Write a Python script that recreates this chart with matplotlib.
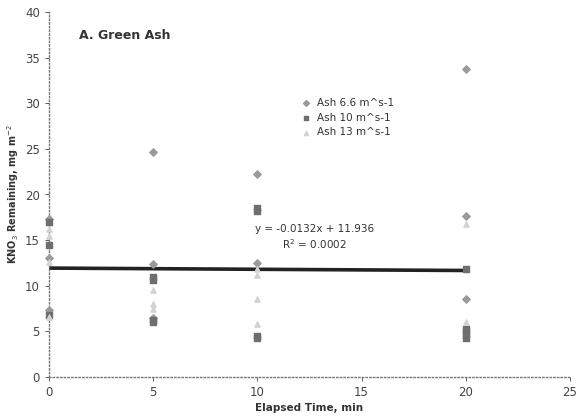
import matplotlib
matplotlib.use("Agg")
import matplotlib.pyplot as plt
import numpy as np

# data
t_66 = [0, 0, 0, 5, 5, 5, 10, 10, 20, 20, 20]
y_66 = [17.3, 13.0, 7.3, 24.7, 12.4, 6.5, 22.2, 12.5, 33.8, 17.6, 8.6]

t_10 = [0, 0, 0, 5, 5, 5, 5, 10, 10, 10, 10, 20, 20, 20, 20, 20]
y_10 = [17.0, 14.5, 6.8, 11.0, 10.6, 6.3, 6.0, 18.5, 18.2, 4.5, 4.3, 11.8, 5.3, 5.0, 4.6, 4.3]

t_13 = [0, 0, 0, 0, 5, 5, 5, 10, 10, 10, 10, 20, 20]
y_13 = [16.2, 15.5, 12.6, 6.6, 9.5, 8.0, 7.5, 11.8, 11.2, 8.6, 5.8, 16.8, 6.0]

slope, intercept = -0.0132, 11.936
fit_x = [0, 20]

fig = plt.figure(figsize=(5.77, 4.19), dpi=100)
ax = fig.add_axes([49/577, 1 - 377/419, (570-49)/577, (377-12)/419])

ax.scatter(t_66, y_66, marker='D', s=14, color='#9a9a9a', label='Ash 6.6 m^s-1', zorder=3, clip_on=False)
ax.scatter(t_10, y_10, marker='s', s=14, color='#6e6e6e', label='Ash 10 m^s-1', zorder=3, clip_on=False)
ax.scatter(t_13, y_13, marker='^', s=14, color='#d2d2d2', label='Ash 13 m^s-1', zorder=3, clip_on=False)

fx = np.array(fit_x)
ax.plot(fx, slope * fx + intercept, color='#222222', lw=2.6, zorder=2)

ax.set_xlim(0, 25)
ax.set_ylim(0, 40)
ax.set_xticks(range(0, 26, 5))
ax.set_yticks(range(0, 41, 5))
for s in ['top', 'right']:
    ax.spines[s].set_visible(False)
for s in ['left', 'bottom']:
    ax.spines[s].set_linestyle(':')
    ax.spines[s].set_color('#777777')
    ax.spines[s].set_linewidth(1.0)
ax.tick_params(labelsize=8.5, colors='#444444', length=3, width=0.6)

ax.set_xlabel('Elapsed Time, min', fontsize=7.5, fontweight='bold', color='#333333', labelpad=3)
ax.set_ylabel('KNO$_3$ Remaining, mg m$^{-2}$', fontsize=7, fontweight='bold', color='#333333', labelpad=3)

ax.text(0.058, 0.925, 'A. Green Ash', transform=ax.transAxes, fontsize=9, fontweight='bold', color='#333333')
ax.text(0.51, 0.398, 'y = -0.0132x + 11.936', transform=ax.transAxes, fontsize=7.5,
        ha='center', color='#333333')
ax.text(0.51, 0.352, 'R$^2$ = 0.0002', transform=ax.transAxes, fontsize=7.5,
        ha='center', color='#333333')

ax.legend(loc='upper left', bbox_to_anchor=(0.455, 0.79), frameon=False, fontsize=7.5,
          handletextpad=0.1, labelspacing=0.45, markerscale=0.8, labelcolor='#333333')

fig.savefig('out.png', dpi=100)
